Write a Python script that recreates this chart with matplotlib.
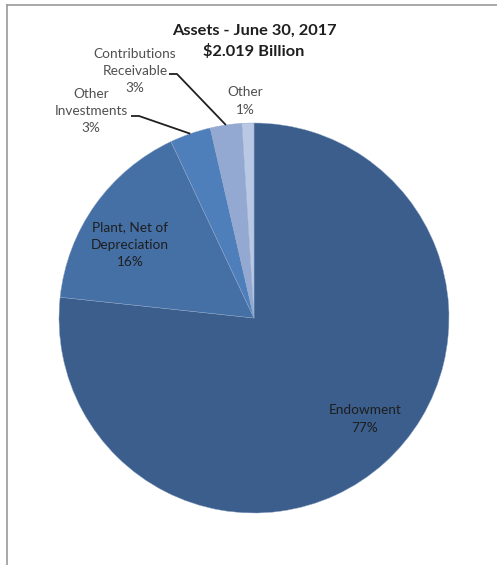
import numpy as np
import matplotlib
matplotlib.use("Agg")
import matplotlib.pyplot as plt
from matplotlib.lines import Line2D

# --- data --- #
categories = ["Endowment", "Plant, Net of\nDepreciation", "Other\nInvestments",
              "Contributions\nReceivable", "Other"]
shares = [76.7, 16.3, 3.4, 2.6, 1.0]
colors = ["#3B5E8C", "#4570A6", "#4F7FBB", "#93A9D1", "#B9C8E4"]
title_lines = ["Assets - June 30, 2017", "$2.019 Billion"]

plt.rcParams['font.family'] = ['Lato', 'DejaVu Sans']

W, H = 497, 565
fig = plt.figure(figsize=(W / 100, H / 100), dpi=100)

# pie centre / radius in pixels
cx, cy, r = 254, 318, 195
ax = fig.add_axes([(cx - r) / W, (H - cy - r) / H, 2 * r / W, 2 * r / H])
wedges, _ = ax.pie(shares, colors=colors, startangle=90, counterclock=False,
                   radius=1, wedgeprops=dict(linewidth=0.3, edgecolor="#8FA6C8"))
ax.set_xlim(-1, 1)
ax.set_ylim(-1, 1)
ax.axis("off")


def px(x, y):
    # pixel position -> data coords of the pie axes
    return (x - cx) / r, (cy - y) / r


def edge_point(w, rad=1.0):
    a = np.deg2rad((w.theta1 + w.theta2) / 2)
    return rad * np.cos(a), rad * np.sin(a)


labels = [f"{c}\n{s:.0f}%" for c, s in zip(categories, shares)]
inside_col = "#1E1E1E"
outside_col = "#505050"
fs = 9.8
ls = 1.55

# in-slice labels
ax.text(*px(365, 419), labels[0], ha="center", va="center", fontsize=fs,
        color=inside_col, linespacing=ls)
ax.text(*px(130, 245), labels[1], ha="center", va="center", fontsize=fs,
        color=inside_col, linespacing=ls)

# outside labels
ax.text(*px(91, 111), labels[2], ha="center", va="center", fontsize=fs,
        color=outside_col, linespacing=ls)
ax.text(*px(135, 71), labels[3], ha="center", va="center", fontsize=fs,
        color=outside_col, linespacing=ls)
ax.text(*px(245, 101), labels[4], ha="center", va="center", fontsize=fs,
        color=outside_col, linespacing=ls)

# leader lines
for w, start, knee in [(wedges[2], (131, 116), (139, 116)),
                       (wedges[3], (169, 74), (177, 74))]:
    ex, ey = edge_point(w)
    sx, sy = px(*start)
    kx, ky = px(*knee)
    ax.plot([sx, kx, ex], [sy, ky, ey], color="#202020", lw=1.3,
            clip_on=False, solid_capstyle="butt")

# title
fig.text(cx / W, 1 - 31 / H, title_lines[0], ha="center", va="center",
         fontsize=11.8, fontweight="bold", color="#1E1E1E")
fig.text(cx / W, 1 - 52 / H, title_lines[1], ha="center", va="center",
         fontsize=11.8, fontweight="bold", color="#1E1E1E")

# chart frame (top and left edges visible in the crop)
fig.add_artist(Line2D([7 / W, 7 / W], [0, 1 - 5 / H], transform=fig.transFigure,
                      color="#9A9A9A", lw=1.2))
fig.add_artist(Line2D([7 / W, 1], [1 - 5 / H, 1 - 5 / H], transform=fig.transFigure,
                      color="#9A9A9A", lw=1.2))

fig.savefig("out.png", dpi=100)
